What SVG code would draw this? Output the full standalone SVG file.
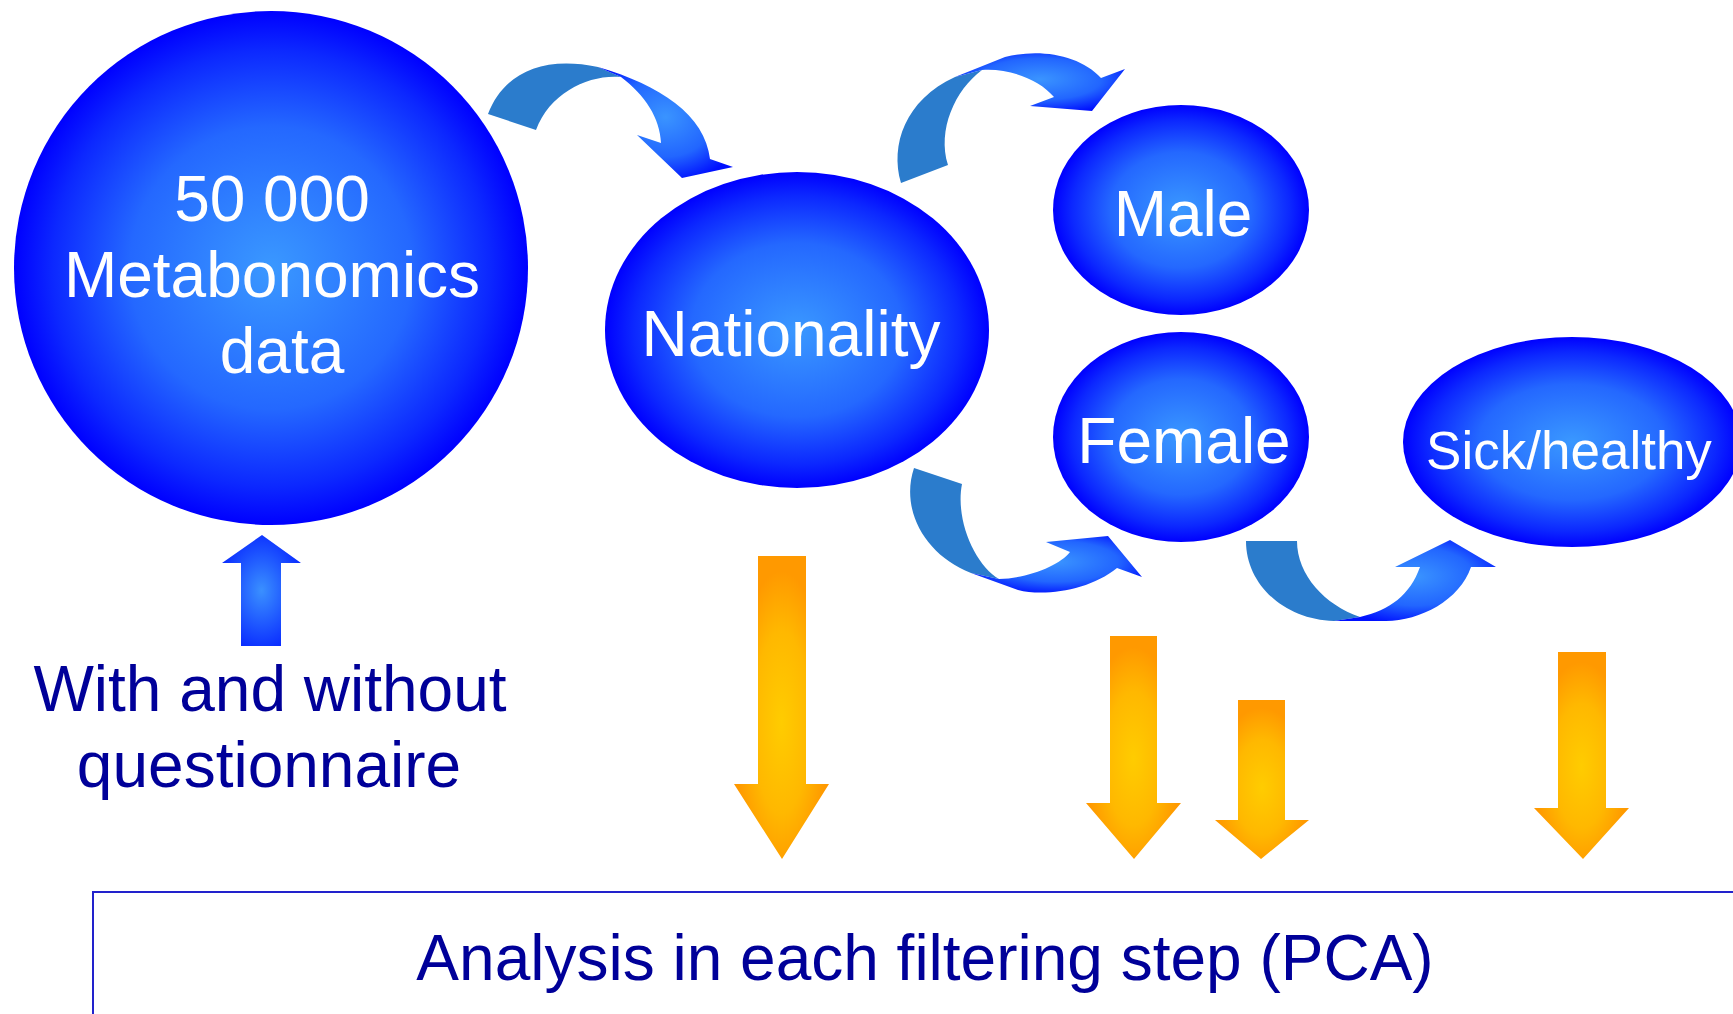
<svg xmlns="http://www.w3.org/2000/svg" width="1733" height="1014" viewBox="0 0 1733 1014">
<defs>
<radialGradient id="gBall" cx="0.5" cy="0.5" r="0.5">
<stop offset="0" stop-color="#3a98ff"/>
<stop offset="0.55" stop-color="#2468ff"/>
<stop offset="0.85" stop-color="#0c28ff"/>
<stop offset="1" stop-color="#0000ff"/>
</radialGradient>
<radialGradient id="gFront" cx="0.5" cy="0.45" r="0.6">
<stop offset="0" stop-color="#3a94ff"/>
<stop offset="0.6" stop-color="#2266ff"/>
<stop offset="1" stop-color="#0010ff"/>
</radialGradient>
<radialGradient id="gUp" cx="0.5" cy="0.5" r="0.55">
<stop offset="0" stop-color="#3a90ff"/>
<stop offset="1" stop-color="#0a2cff"/>
</radialGradient>
<radialGradient id="gOrange" cx="0.5" cy="0.55" r="0.5">
<stop offset="0" stop-color="#ffcc00"/>
<stop offset="0.6" stop-color="#ffb800"/>
<stop offset="1" stop-color="#ff9900"/>
</radialGradient>
<style>
.ball{fill:url(#gBall);}
.lbl{font-family:"Liberation Sans",Arial,sans-serif;fill:#ffffff;text-anchor:middle;font-size:64px;}
.dark{font-family:"Liberation Sans",Arial,sans-serif;fill:#000099;text-anchor:middle;font-size:64px;}
.back{fill:#2b7ccc;}
.front{fill:url(#gFront);}
.down{fill:url(#gOrange);}
</style>
</defs>

<g id="node-data">
<circle class="ball" cx="271" cy="268" r="257"/>
<text class="lbl" x="272" y="221">50 000</text>
<text class="lbl" x="272" y="297">Metabonomics</text>
<text class="lbl" x="282" y="373">data</text>
</g>

<g id="node-nationality">
<ellipse class="ball" cx="797" cy="330" rx="192" ry="158"/>
<text class="lbl" x="791" y="356">Nationality</text>
</g>

<g id="node-male">
<ellipse class="ball" cx="1181" cy="210" rx="128" ry="105"/>
<text class="lbl" x="1183" y="236">Male</text>
</g>

<g id="node-female">
<ellipse class="ball" cx="1181" cy="437" rx="128" ry="105"/>
<text class="lbl" x="1184" y="463">Female</text>
</g>

<g id="node-sick">
<ellipse class="ball" cx="1572" cy="442" rx="169" ry="105"/>
<text class="lbl" x="1569" y="469" style="font-size:53px">Sick/healthy</text>
</g>

<g id="node-questionnaire">
<text class="dark" x="270" y="711">With and without</text>
<text class="dark" x="269" y="787">questionnaire</text>
</g>

<g id="node-analysis">
<rect x="93" y="892" width="1700" height="200" fill="none" stroke="#2222cc" stroke-width="2"/>
<text class="dark" x="925" y="980">Analysis in each filtering step (PCA)</text>
</g>

<g id="connectors">
<!-- data -> nationality -->
<path class="back" d="M488,114 C503,75 540,55 598,67 L621,77 C590,74 550,92 536,130 Z"/>
<path class="front" d="M598,67 C660,85 705,115 710,159 L733,167 L682,178 L637,135 L661,143 C660,118 645,95 621,77 Z"/>
<!-- nationality -> male -->
<path class="back" d="M901,183 C890,145 905,100 955,77 L982,70 C955,90 937,130 948,165 Z"/>
<path class="front" d="M955,77 L1005,57 C1040,48 1080,55 1101,78 L1125,69 L1092,111 L1030,106 L1054,97 C1040,80 1010,68 982,70 Z"/>
<!-- nationality -> female -->
<path class="back" d="M914,468 C900,510 925,555 971,573 L999,579 C975,565 955,520 962,484 Z"/>
<path class="front" d="M971,573 L1018,590 C1045,597 1090,590 1117,568 L1142,577 L1108,536 L1046,542 L1070,552 C1060,565 1030,578 999,579 Z"/>
<!-- female -> sick/healthy -->
<path class="back" d="M1246,541 C1246,585 1285,620 1334,621 L1360,617 C1325,605 1297,575 1297,541 Z"/>
<path class="front" d="M1334,621 L1386,621 C1420,621 1460,600 1471,567 L1496,567 L1450,540 L1395,567 L1420,567 C1410,595 1390,610 1360,617 Z"/>
<!-- questionnaire -> data -->
<path fill="url(#gUp)" d="M241,646 L241,563 L222,563 L262,535 L301,563 L281,563 L281,646 Z"/>
<!-- orange arrows to analysis -->
<path class="down" d="M758,556 L806,556 L806,784 L829,784 L782,859 L734,784 L758,784 Z"/>
<path class="down" d="M1110,636 L1157,636 L1157,803 L1181,803 L1134,859 L1086,803 L1110,803 Z"/>
<path class="down" d="M1238,700 L1285,700 L1285,820 L1309,820 L1261,859 L1215,820 L1238,820 Z"/>
<path class="down" d="M1558,652 L1606,652 L1606,808 L1629,808 L1583,859 L1534,808 L1558,808 Z"/>
</g>
</svg>
